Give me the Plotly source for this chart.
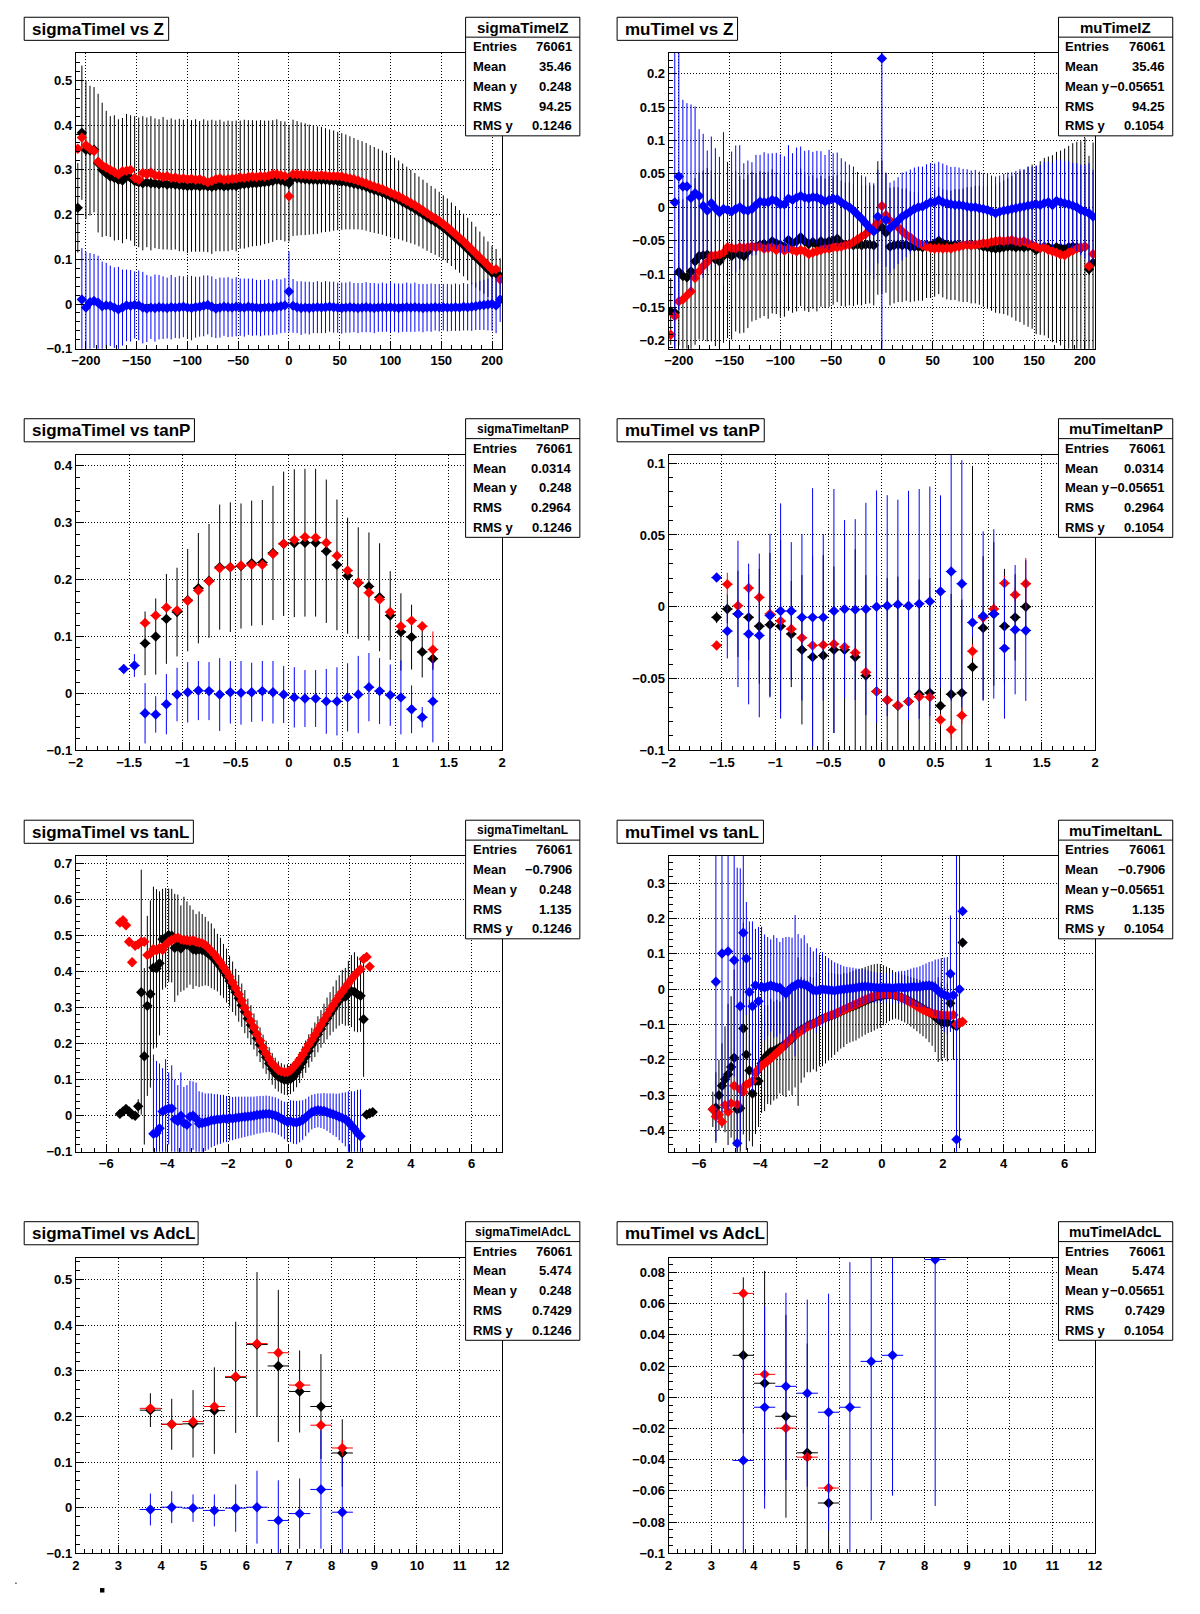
import plotly.graph_objects as go

# The page body keeps the browser's default 8px margin, so the figure is made
# 16px smaller than the 1200x1614 window and every position is shifted by 8px.
CANVAS_W, CANVAS_H = 1200, 1614
OFF = 8
W, H = CANVAS_W - 2 * OFF, CANVAS_H - 2 * OFF
FONT = "Liberation Sans, Arial, Helvetica, sans-serif"
BLACK, RED, BLUE = "#000000", "#ff0000", "#0000ff"

# ---------------- binning (bin edges -> centres) ----------------
Z_LO, Z_W, Z_N = -210.0, 4.0, 105
TANP_LO, TANP_W, TANP_N = -1.6, 0.1, 30
TANL_LO, TANL_W, TANL_N = -5.6, 0.1, 84
ADCL_LO, ADCL_W, ADCL_N = 3.5, 0.5, 10


def centres(lo, w, n):
    return [round(lo + w * (i + 0.5), 4) for i in range(n)]


Z_X = centres(Z_LO, Z_W, Z_N)
TANP_X = centres(TANP_LO, TANP_W, TANP_N)
TANL_X = centres(TANL_LO, TANL_W, TANL_N)
ADCL_X = centres(ADCL_LO, ADCL_W, ADCL_N)

# ---------------- sigmaTimeI vs Z ----------------
SIG_Z_BLACK = [
    0.215, 0.383, 0.345, 0.343, 0.345, 0.315, 0.300, 0.292, 0.285, 0.282,
    0.278, 0.276, 0.285, 0.282, 0.275, 0.272, 0.270, 0.272, 0.270, 0.270,
    0.268, 0.270, 0.267, 0.268, 0.267, 0.266, 0.265, 0.264, 0.264, 0.265,
    0.263, 0.265, 0.263, 0.262, 0.264, 0.265, 0.263, 0.264, 0.265, 0.264,
    0.267, 0.268, 0.269, 0.270, 0.270, 0.271, 0.272, 0.273, 0.275, 0.278,
    0.276, 0.274, 0.270, 0.282, 0.281, 0.280, 0.279, 0.278, 0.278, 0.277,
    0.278, 0.277, 0.276, 0.276, 0.275, 0.274, 0.273, 0.271, 0.269, 0.267,
    0.265, 0.262, 0.258, 0.255, 0.252, 0.249, 0.245, 0.241, 0.237, 0.233,
    0.228, 0.223, 0.218, 0.213, 0.207, 0.201, 0.195, 0.189, 0.184, 0.178,
    0.171, 0.164, 0.156, 0.148, 0.140, 0.132, 0.123, 0.114, 0.105, 0.096,
    0.087, 0.078, 0.070, 0.068, 0.062]
SIG_Z_BLACK_ERR = [
    0.10, 0.15, 0.155, 0.145, 0.14, 0.155, 0.15, 0.14, 0.135, 0.14,
    0.135, 0.14, 0.14, 0.14, 0.145, 0.145, 0.15, 0.145, 0.15, 0.145,
    0.145, 0.148, 0.145, 0.147, 0.145, 0.148, 0.147, 0.15, 0.147, 0.148,
    0.146, 0.148, 0.147, 0.15, 0.146, 0.147, 0.145, 0.146, 0.144, 0.146,
    0.143, 0.144, 0.142, 0.141, 0.14, 0.14, 0.138, 0.137, 0.136, 0.135,
    0.133, 0.134, 0.13, 0.13, 0.128, 0.126, 0.125, 0.123, 0.122, 0.12,
    0.118, 0.116, 0.114, 0.112, 0.11, 0.108, 0.106, 0.104, 0.102, 0.1,
    0.099, 0.098, 0.097, 0.096, 0.095, 0.094, 0.093, 0.092, 0.09, 0.088,
    0.086, 0.084, 0.082, 0.08, 0.078, 0.077, 0.076, 0.075, 0.074, 0.073,
    0.072, 0.072, 0.071, 0.071, 0.07, 0.07, 0.07, 0.07, 0.068, 0.066,
    0.064, 0.062, 0.06, 0.055, 0.04]
SIG_Z_RED = [
    0.347, 0.372, 0.355, 0.347, 0.342, 0.318, 0.310, 0.305, 0.300, 0.295,
    0.290, 0.297, 0.298, 0.300, 0.282, 0.278, 0.293, 0.290, 0.294, 0.288,
    0.287, 0.284, 0.286, 0.282, 0.283, 0.280, 0.281, 0.279, 0.280, 0.278,
    0.279, 0.276, 0.272, 0.275, 0.279, 0.281, 0.278, 0.279, 0.280, 0.281,
    0.283, 0.282, 0.284, 0.285, 0.284, 0.286, 0.285, 0.287, 0.290, 0.290,
    0.288, 0.286, 0.241, 0.290, 0.290, 0.289, 0.289, 0.288, 0.288, 0.287,
    0.288, 0.287, 0.286, 0.286, 0.286, 0.285, 0.283, 0.281, 0.279, 0.276,
    0.273, 0.270, 0.266, 0.263, 0.260, 0.257, 0.253, 0.249, 0.245, 0.241,
    0.236, 0.231, 0.226, 0.221, 0.215, 0.209, 0.203, 0.197, 0.192, 0.186,
    0.179, 0.172, 0.164, 0.156, 0.148, 0.140, 0.131, 0.122, 0.113, 0.104,
    0.095, 0.086, 0.077, 0.078, 0.055]
SIG_Z_BLUE = [
    None, 0.010, -0.008, 0.004, 0.007, 0.003, -0.005, -0.003, -0.004, -0.008,
    -0.012, -0.008, -0.003, -0.004, -0.002, -0.003, -0.008, -0.010, -0.008, -0.009,
    -0.007, -0.008, -0.009, -0.007, -0.008, -0.007, -0.006, -0.008, -0.009, -0.007,
    -0.006, -0.004, -0.002, -0.006, -0.010, -0.008, -0.006, -0.007, -0.008, -0.006,
    -0.007, -0.008, -0.006, -0.007, -0.008, -0.009, -0.008, -0.007, -0.008, -0.006,
    -0.005, -0.003, 0.028, -0.004, -0.007, -0.009, -0.008, -0.009, -0.008, -0.007,
    -0.008, -0.007, -0.006, -0.007, -0.008, -0.009, -0.008, -0.007, -0.008, -0.009,
    -0.008, -0.007, -0.008, -0.009, -0.008, -0.007, -0.008, -0.007, -0.008, -0.009,
    -0.008, -0.007, -0.008, -0.007, -0.008, -0.009, -0.008, -0.008, -0.007, -0.008,
    -0.007, -0.008, -0.008, -0.007, -0.008, -0.006, -0.007, -0.006, -0.005, -0.003,
    -0.002, -0.001, 0.000, -0.003, 0.010]
SIG_Z_BLUE_ERR = [
    None, 0.115, 0.125, 0.11, 0.105, 0.105, 0.1, 0.095, 0.09, 0.09,
    0.095, 0.085, 0.08, 0.08, 0.075, 0.078, 0.08, 0.075, 0.07, 0.075,
    0.072, 0.07, 0.068, 0.072, 0.068, 0.07, 0.068, 0.07, 0.072, 0.068,
    0.067, 0.068, 0.066, 0.068, 0.066, 0.067, 0.065, 0.067, 0.065, 0.066,
    0.064, 0.065, 0.063, 0.064, 0.062, 0.063, 0.062, 0.063, 0.061, 0.062,
    0.06, 0.061, 0.09, 0.06, 0.058, 0.06, 0.058, 0.059, 0.057, 0.058,
    0.057, 0.058, 0.056, 0.057, 0.056, 0.057, 0.056, 0.057, 0.055, 0.056,
    0.055, 0.056, 0.055, 0.056, 0.054, 0.055, 0.054, 0.056, 0.054, 0.055,
    0.054, 0.055, 0.054, 0.055, 0.053, 0.054, 0.053, 0.054, 0.052, 0.053,
    0.052, 0.053, 0.052, 0.053, 0.052, 0.053, 0.052, 0.054, 0.053, 0.055,
    0.056, 0.058, 0.06, 0.062, 0.05]
SIG_Z_RED_ERR = 0.004

# ---------------- muTimeI vs Z ----------------
MU_Z_BLACK = [
    -0.156, -0.158, -0.097, -0.103, -0.105, -0.096, -0.081, -0.073, -0.072, -0.071,
    -0.073, -0.078, -0.081, -0.073, -0.064, -0.073, -0.066, -0.071, -0.073, -0.066,
    -0.059, -0.059, -0.056, -0.055, -0.057, -0.051, -0.054, -0.056, -0.059, -0.049,
    -0.054, -0.051, -0.045, -0.051, -0.055, -0.052, -0.056, -0.051, -0.054, -0.051,
    -0.050, -0.047, -0.054, -0.056, -0.055, -0.057, -0.056, -0.057, -0.056, -0.056,
    -0.057, -0.031, -0.030, -0.038, -0.059, -0.057, -0.056, -0.057, -0.056, -0.059,
    -0.059, -0.059, -0.060, -0.056, -0.057, -0.054, -0.050, -0.054, -0.056, -0.057,
    -0.056, -0.057, -0.057, -0.056, -0.057, -0.056, -0.057, -0.059, -0.060, -0.061,
    -0.062, -0.061, -0.060, -0.059, -0.059, -0.060, -0.059, -0.060, -0.059, -0.059,
    -0.064, -0.061, -0.059, -0.060, -0.062, -0.060, -0.061, -0.062, -0.060, -0.059,
    -0.060, -0.061, -0.059, -0.093, -0.083]
MU_Z_BLACK_ERR = [
    0.05, 0.06, 0.11, 0.115, 0.12, 0.12, 0.125, 0.125, 0.127, 0.13,
    0.128, 0.13, 0.128, 0.13, 0.132, 0.125, 0.12, 0.118, 0.115, 0.115,
    0.112, 0.11, 0.11, 0.108, 0.11, 0.108, 0.106, 0.108, 0.105, 0.106,
    0.104, 0.105, 0.103, 0.104, 0.102, 0.1, 0.1, 0.098, 0.097, 0.098,
    0.096, 0.095, 0.094, 0.093, 0.092, 0.091, 0.09, 0.09, 0.089, 0.088,
    0.09, 0.1, 0.1, 0.09, 0.088, 0.087, 0.086, 0.085, 0.084, 0.083,
    0.082, 0.081, 0.08, 0.08, 0.079, 0.08, 0.08, 0.081, 0.082, 0.082,
    0.083, 0.084, 0.085, 0.086, 0.087, 0.088, 0.089, 0.09, 0.092, 0.094,
    0.096, 0.098, 0.1, 0.103, 0.106, 0.11, 0.113, 0.116, 0.12, 0.123,
    0.126, 0.13, 0.133, 0.136, 0.14, 0.143, 0.146, 0.15, 0.152, 0.155,
    0.158, 0.16, 0.163, 0.17, 0.18]
MU_Z_RED = [
    -0.191, -0.163, -0.141, -0.138, -0.132, -0.126, -0.106, -0.096, -0.088, -0.082,
    -0.073, -0.072, -0.071, -0.068, -0.060, -0.061, -0.062, -0.060, -0.061, -0.060,
    -0.059, -0.060, -0.059, -0.062, -0.061, -0.060, -0.064, -0.061, -0.065, -0.062,
    -0.064, -0.066, -0.064, -0.066, -0.070, -0.068, -0.066, -0.064, -0.062, -0.062,
    -0.060, -0.060, -0.059, -0.057, -0.056, -0.052, -0.048, -0.044, -0.040, -0.035,
    -0.030, -0.022, 0.002, -0.012, -0.020, -0.025, -0.030, -0.036, -0.041, -0.045,
    -0.050, -0.054, -0.057, -0.059, -0.061, -0.062, -0.061, -0.062, -0.061, -0.062,
    -0.060, -0.059, -0.057, -0.056, -0.057, -0.056, -0.055, -0.054, -0.054, -0.052,
    -0.051, -0.050, -0.051, -0.050, -0.049, -0.051, -0.052, -0.051, -0.054, -0.056,
    -0.059, -0.061, -0.060, -0.064, -0.066, -0.068, -0.071, -0.072, -0.068, -0.065,
    -0.062, -0.060, -0.059, -0.088, -0.070]
MU_Z_BLUE = [
    None, 0.0074, 0.046, 0.031, 0.031, 0.014, 0.021, 0.017, 0.002, -0.005,
    0.006, -0.0015, -0.0075, -0.0025, -0.004, -0.0065, -0.0025, 0.0, -0.004, -0.005,
    -0.0025, 0.0035, 0.0085, 0.0075, 0.0075, 0.011, 0.0095, 0.0045, 0.0045, 0.013,
    0.011, 0.0145, 0.017, 0.0145, 0.0135, 0.015, 0.0145, 0.012, 0.0085, 0.011,
    0.013, 0.012, 0.0075, 0.0035, 0.0, -0.005, -0.011, -0.017, -0.024, -0.031,
    -0.036, -0.014, 0.223, -0.019, -0.031, -0.026, -0.020, -0.014, -0.0105, -0.0065,
    -0.0025, 0.0, 0.001, 0.0045, 0.0075, 0.0075, 0.011, 0.0075, 0.006, 0.0045,
    0.0035, 0.0035, 0.0025, 0.001, 0.0, 0.0, -0.0015, -0.0025, -0.004, -0.0065,
    -0.009, -0.0065, -0.005, -0.004, -0.0025, -0.0015, 0.0, 0.001, 0.0025, 0.0035,
    0.0045, 0.0035, 0.006, 0.0075, 0.0035, 0.0095, 0.0075, 0.006, 0.0045, 0.0025,
    0.0, -0.004, -0.0065, -0.009, -0.014]
MU_Z_BLUE_ERR = [
    None, 0.25, 0.2, 0.13, 0.125, 0.14, 0.13, 0.1, 0.108, 0.09,
    0.1, 0.09, 0.083, 0.115, 0.065, 0.09, 0.095, 0.093, 0.07, 0.075,
    0.07, 0.075, 0.07, 0.075, 0.073, 0.07, 0.072, 0.075, 0.072, 0.08,
    0.07, 0.075, 0.074, 0.07, 0.072, 0.068, 0.07, 0.072, 0.07, 0.075,
    0.068, 0.07, 0.066, 0.065, 0.064, 0.066, 0.064, 0.065, 0.07, 0.068,
    0.072, 0.07, 0.44, 0.07, 0.068, 0.066, 0.065, 0.066, 0.064, 0.063,
    0.062, 0.061, 0.06, 0.06, 0.059, 0.058, 0.057, 0.058, 0.057, 0.056,
    0.057, 0.056, 0.055, 0.056, 0.055, 0.056, 0.055, 0.054, 0.055, 0.054,
    0.055, 0.054, 0.055, 0.056, 0.055, 0.056, 0.057, 0.056, 0.058, 0.057,
    0.058, 0.06, 0.062, 0.061, 0.063, 0.062, 0.064, 0.063, 0.065, 0.064,
    0.066, 0.068, 0.07, 0.075, 0.07]
MU_Z_RED_ERR = 0.003

# ---------------- sigmaTimeI vs tanP ----------------
SIG_P_BLACK = [None, None, 0.088, 0.100, 0.131, 0.143, 0.164, 0.185, 0.198, 0.222,
               0.222, 0.224, 0.229, 0.230, 0.247, 0.263, 0.264, 0.265, 0.265, 0.250,
               0.226, 0.207, 0.194, 0.188, 0.169, 0.137, 0.108, 0.099, 0.073, 0.061]
SIG_P_BLACK_ERR = [None, None, 0.056, 0.067, 0.079, 0.078, 0.09, 0.097, 0.10, 0.11,
                   0.114, 0.11, 0.11, 0.11, 0.118, 0.127, 0.13, 0.13, 0.13, 0.126,
                   0.115, 0.102, 0.098, 0.095, 0.095, 0.078, 0.068, 0.057, 0.045, 0.02]
SIG_P_RED = [None, None, 0.124, 0.137, 0.151, 0.146, 0.163, 0.181, 0.197, 0.220,
             0.222, 0.225, 0.226, 0.226, 0.245, 0.263, 0.270, 0.275, 0.274, 0.265,
             0.242, 0.216, 0.195, 0.177, 0.165, 0.143, 0.118, 0.128, 0.118, 0.077]
SIG_P_RED_ERR = [None, None, 0.008, 0.006, 0.005, 0.005, 0.004, 0.004, 0.004, 0.003,
                 0.003, 0.003, 0.003, 0.003, 0.003, 0.003, 0.003, 0.003, 0.003, 0.003,
                 0.003, 0.003, 0.004, 0.004, 0.004, 0.005, 0.005, 0.006, 0.008, 0.032]
SIG_P_BLUE = [0.043, 0.049, -0.035, -0.037, -0.019, -0.002, 0.002, 0.005, 0.004, -0.002,
              0.002, 0.001, 0.002, 0.004, 0.002, -0.002, -0.007, -0.009, -0.009, -0.014,
              -0.014, -0.007, -0.002, 0.011, 0.004, -0.003, -0.007, -0.028, -0.042, -0.014]
SIG_P_BLUE_ERR = [0.002, 0.02, 0.053, 0.032, 0.053, 0.047, 0.053, 0.052, 0.051, 0.064,
                  0.055, 0.056, 0.052, 0.053, 0.055, 0.05, 0.053, 0.05, 0.05, 0.057,
                  0.06, 0.06, 0.068, 0.06, 0.058, 0.054, 0.065, 0.042, 0.018, 0.072]

# ---------------- muTimeI vs tanP ----------------
MU_P_BLACK = [-0.0074, -0.0016, -0.005, -0.0074, -0.0136, -0.0125, -0.0136, -0.019, -0.030, -0.035,
              -0.034, -0.030, -0.030, -0.035, -0.048, -0.059, -0.065, -0.069, -0.066, -0.061,
              -0.060, -0.069, -0.061, -0.060, -0.042, -0.0148, -0.005, -0.0136, -0.0074, 0.0]
MU_P_BLACK_ERR = [0.004, 0.01, 0.03, 0.03, 0.04, 0.05, 0.06, 0.037, 0.052, 0.07,
                  0.07, 0.058, 0.08, 0.075, 0.07, 0.08, 0.085, 0.09, 0.085, 0.08,
                  0.08, 0.075, 0.07, 0.065, 0.14, 0.05, 0.05, 0.04, 0.03, 0.02]
MU_P_RED = [-0.027, 0.0157, 0.0007, 0.013, 0.0065, -0.005, -0.010, -0.0155, -0.0217, -0.027,
            -0.0266, -0.026, -0.028, -0.032, -0.0457, -0.059, -0.065, -0.0686, -0.066, -0.0628,
            -0.063, -0.0788, -0.0857, -0.0757, -0.031, -0.0076, -0.0016, 0.0164, 0.0083, 0.016]
MU_P_RED_ERR = [0.003, 0.008, 0.004, 0.004, 0.004, 0.003, 0.003, 0.003, 0.003, 0.003,
                0.003, 0.003, 0.003, 0.003, 0.003, 0.003, 0.003, 0.003, 0.003, 0.003,
                0.003, 0.004, 0.006, 0.006, 0.005, 0.004, 0.004, 0.005, 0.005, 0.018]
MU_P_BLUE = [0.0203, -0.017, -0.005, -0.019, -0.020, -0.0062, -0.003, -0.003, -0.0074, -0.0074,
             -0.0074, -0.003, -0.0016, -0.002, -0.0016, 0.0, 0.0007, 0.0016, 0.0007, 0.002,
             0.0037, 0.0106, 0.0245, 0.016, -0.011, -0.0065, -0.005, -0.029, -0.016, -0.0166]
MU_P_BLUE_ERR = [0.002, 0.019, 0.051, 0.049, 0.057, 0.057, 0.075, 0.048, 0.058, 0.09,
                 0.058, 0.085, 0.062, 0.063, 0.074, 0.081, 0.077, 0.073, 0.080, 0.08,
                 0.08, 0.067, 0.09, 0.086, 0.01, 0.059, 0.059, 0.049, 0.045, 0.049]

# ---------------- sigmaTimeI vs tanL ----------------
SIG_L_BLACK = [
    0.005, 0.012, 0.019, 0.012, 0.003, 0.000, 0.026, 0.343, 0.165, 0.305,
    0.338, 0.411, 0.409, 0.423, 0.490, 0.494, 0.501, 0.500, 0.466, 0.474,
    0.464, 0.478, 0.475, 0.474, 0.462, 0.460, 0.462, 0.460, 0.457, 0.450,
    0.444, 0.435, 0.425, 0.414, 0.402, 0.389, 0.374, 0.358, 0.343, 0.326,
    0.307, 0.289, 0.270, 0.252, 0.234, 0.215, 0.197, 0.178, 0.162, 0.145,
    0.130, 0.118, 0.109, 0.104, 0.100, 0.100, 0.102, 0.109, 0.121, 0.134,
    0.149, 0.164, 0.180, 0.197, 0.211, 0.226, 0.241, 0.256, 0.270, 0.283,
    0.296, 0.309, 0.320, 0.330, 0.330, 0.340, 0.346, 0.344, 0.337, 0.333,
    0.268, 0.003, 0.007, 0.010]
SIG_L_BLACK_ERR = [
    0.005, 0.005, 0.005, 0.005, 0.005, 0.01, 0.02, 0.34, 0.245, 0.25,
    0.26, 0.225, 0.22, 0.2, 0.14, 0.138, 0.13, 0.13, 0.15, 0.14,
    0.12, 0.13, 0.12, 0.11, 0.11, 0.1, 0.105, 0.1, 0.095, 0.09,
    0.09, 0.085, 0.08, 0.08, 0.075, 0.075, 0.07, 0.07, 0.065, 0.065,
    0.06, 0.06, 0.055, 0.055, 0.05, 0.05, 0.048, 0.047, 0.046, 0.045,
    0.044, 0.043, 0.042, 0.042, 0.042, 0.043, 0.042, 0.042, 0.042, 0.043,
    0.044, 0.045, 0.046, 0.047, 0.048, 0.05, 0.052, 0.055, 0.058, 0.06,
    0.063, 0.067, 0.07, 0.075, 0.08, 0.09, 0.1, 0.11, 0.105, 0.1,
    0.16, 0.005, 0.005, 0.005]
SIG_L_RED = [
    0.536, 0.543, 0.529, 0.483, 0.426, 0.472, 0.476, 0.483, 0.483, 0.446,
    0.450, 0.463, 0.459, 0.466, 0.460, 0.474, 0.483, 0.488, 0.492, 0.494,
    0.490, 0.488, 0.487, 0.485, 0.487, 0.483, 0.481, 0.479, 0.474, 0.466,
    0.457, 0.448, 0.437, 0.426, 0.413, 0.400, 0.386, 0.370, 0.354, 0.337,
    0.319, 0.300, 0.282, 0.263, 0.245, 0.226, 0.208, 0.189, 0.173, 0.158,
    0.145, 0.136, 0.127, 0.123, 0.121, 0.121, 0.126, 0.135, 0.145, 0.156,
    0.169, 0.183, 0.197, 0.210, 0.224, 0.238, 0.252, 0.266, 0.280, 0.294,
    0.307, 0.320, 0.333, 0.344, 0.356, 0.367, 0.379, 0.389, 0.398, 0.407,
    0.435, 0.441, 0.414, None]
SIG_L_BLUE = [
    None, None, None, None, None, None, None, None, None, None,
    None, -0.050, -0.048, -0.035, 0.012, 0.017, 0.020, 0.020, -0.010, -0.015,
    0.000, -0.020, -0.025, -0.003, 0.000, -0.008, -0.022, -0.020, -0.018, -0.016,
    -0.013, -0.012, -0.010, -0.010, -0.008, -0.009, -0.007, -0.008, -0.006, -0.005,
    -0.004, -0.003, -0.002, -0.001, 0.000, 0.002, 0.003, 0.004, 0.005, 0.005,
    0.003, 0.001, -0.003, -0.008, -0.013, -0.017, -0.015, -0.018, -0.019, -0.016,
    -0.012, -0.005, 0.003, 0.010, 0.013, 0.015, 0.014, 0.013, 0.010, 0.007,
    0.004, 0.001, -0.003, -0.006, -0.010, -0.017, -0.027, -0.037, -0.048, -0.057,
    None, None, None, None]
SIG_L_BLUE_ERR = [
    None, None, None, None, None, None, None, None, None, None,
    None, 0.22, 0.2, 0.18, 0.12, 0.14, 0.1, 0.12, 0.11, 0.1,
    0.12, 0.1, 0.11, 0.1, 0.095, 0.1, 0.09, 0.085, 0.08, 0.078,
    0.075, 0.072, 0.07, 0.068, 0.066, 0.064, 0.062, 0.06, 0.059, 0.058,
    0.057, 0.056, 0.055, 0.054, 0.053, 0.052, 0.052, 0.051, 0.051, 0.05,
    0.05, 0.05, 0.05, 0.05, 0.052, 0.055, 0.058, 0.06, 0.06, 0.058,
    0.055, 0.052, 0.05, 0.048, 0.047, 0.047, 0.048, 0.05, 0.052, 0.055,
    0.058, 0.06, 0.065, 0.07, 0.075, 0.085, 0.095, 0.105, 0.12, 0.13,
    None, None, None, None]
SIG_L_RED_ERR = 0.004

# ---------------- muTimeI vs tanL ----------------
MU_L_BLACK = [
    -0.340, -0.335, -0.300, -0.273, -0.255, -0.241, -0.220, -0.194, -0.340, -0.337,
    -0.111, -0.185, -0.230, -0.295, -0.260, -0.260, -0.210, -0.195, -0.185, -0.177,
    -0.175, -0.170, -0.165, -0.160, -0.155, -0.147, -0.140, -0.128, -0.120, -0.115,
    -0.110, -0.105, -0.100, -0.097, -0.093, -0.088, -0.083, -0.080, -0.077, -0.074,
    -0.071, -0.067, -0.063, -0.059, -0.055, -0.051, -0.048, -0.045, -0.041, -0.037,
    -0.033, -0.029, -0.026, -0.023, -0.020, -0.019, -0.017, -0.016, -0.015, -0.016,
    -0.018, -0.021, -0.024, -0.027, -0.031, -0.036, -0.040, -0.045, -0.050, -0.055,
    -0.060, -0.065, -0.070, -0.078, -0.086, -0.092, -0.094, -0.094, -0.040, -0.100,
    -0.105, -0.095, 0.132, None]
MU_L_BLACK_ERR = [
    0.05, 0.1, 0.1, 0.12, 0.15, 0.2, 0.2, 0.25, 0.15, 0.15,
    0.3, 0.27, 0.2, 0.15, 0.15, 0.13, 0.14, 0.15, 0.14, 0.15,
    0.14, 0.14, 0.13, 0.14, 0.15, 0.14, 0.16, 0.15, 0.21, 0.15,
    0.14, 0.13, 0.135, 0.13, 0.14, 0.13, 0.135, 0.13, 0.125, 0.12,
    0.115, 0.11, 0.105, 0.105, 0.1, 0.1, 0.1, 0.1, 0.098, 0.097,
    0.096, 0.095, 0.095, 0.094, 0.092, 0.09, 0.085, 0.08, 0.075, 0.07,
    0.065, 0.065, 0.066, 0.067, 0.068, 0.07, 0.072, 0.074, 0.076, 0.078,
    0.08, 0.085, 0.09, 0.1, 0.12, 0.11, 0.1, 0.11, 0.015, 0.1,
    0.01, 0.01, 0.01, None]
MU_L_RED = [
    -0.340, -0.360, -0.355, -0.375, -0.328, -0.347, -0.323, -0.273, -0.326, -0.283,
    -0.290, -0.270, -0.266, -0.260, -0.238, -0.226, -0.216, -0.210, -0.203, -0.196,
    -0.188, -0.180, -0.172, -0.163, -0.155, -0.145, -0.137, -0.130, -0.124, -0.118,
    -0.112, -0.107, -0.102, -0.098, -0.094, -0.090, -0.085, -0.080, -0.076, -0.073,
    -0.070, -0.066, -0.062, -0.058, -0.054, -0.050, -0.046, -0.042, -0.038, -0.034,
    -0.030, -0.026, -0.022, -0.019, -0.017, -0.015, -0.014, -0.014, -0.014, -0.015,
    -0.017, -0.020, -0.024, -0.028, -0.033, -0.038, -0.043, -0.048, -0.053, -0.058,
    -0.062, -0.065, -0.068, -0.070, -0.072, -0.073, -0.074, -0.074, -0.075, -0.073,
    -0.100, -0.095, -0.092, None]
MU_L_BLUE = [
    None, 0.021, None, 0.101, None, 0.107, None, 0.082, -0.436, -0.048,
    0.160, 0.087, -0.008, -0.048, 0.011, -0.034, 0.007, 0.005, 0.008, 0.011,
    0.008, 0.005, 0.004, -0.005, -0.012, -0.002, 0.006, 0.010, 0.016, 0.014,
    0.013, 0.010, 0.004, -0.003, -0.004, -0.002, 0.000, -0.001, -0.002, -0.003,
    -0.004, -0.002, -0.001, 0.000, 0.001, 0.002, 0.003, 0.004, 0.006, 0.007,
    0.008, 0.007, 0.006, 0.005, 0.004, 0.004, 0.005, 0.004, 0.004, 0.003,
    0.004, 0.005, 0.005, 0.004, 0.005, 0.006, 0.007, 0.006, 0.007, 0.009,
    0.010, 0.011, 0.009, 0.004, -0.005, -0.012, -0.016, -0.019, 0.044, -0.017,
    -0.425, 0.000, 0.221, None]
MU_L_BLUE_ERR = [
    None, 0.45, None, 0.45, None, 0.45, None, 0.33, 0.78, 0.39,
    0.5, 0.16, 0.2, 0.24, 0.16, 0.21, 0.17, 0.15, 0.14, 0.13,
    0.145, 0.14, 0.13, 0.15, 0.16, 0.15, 0.14, 0.2, 0.14, 0.13,
    0.14, 0.12, 0.115, 0.11, 0.12, 0.1, 0.105, 0.095, 0.09, 0.085,
    0.08, 0.075, 0.07, 0.065, 0.062, 0.06, 0.058, 0.055, 0.052, 0.05,
    0.048, 0.046, 0.045, 0.044, 0.043, 0.042, 0.042, 0.042, 0.043, 0.044,
    0.045, 0.046, 0.047, 0.048, 0.05, 0.052, 0.054, 0.056, 0.058, 0.06,
    0.063, 0.066, 0.07, 0.08, 0.09, 0.1, 0.105, 0.11, 0.165, 0.06,
    0.85, 0.45, 0.01, None]
MU_L_RED_ERR = 0.004

# ---------------- sigmaTimeI vs AdcL ----------------
SIG_A_BLACK = [0.214, 0.183, 0.184, 0.213, 0.286, 0.358, 0.311, 0.255, 0.222, 0.120]
SIG_A_BLACK_ERR = [0.037, 0.056, 0.074, 0.095, 0.122, 0.159, 0.167, 0.090, 0.115, 0.074]
SIG_A_RED = [0.218, 0.183, 0.189, 0.222, 0.288, 0.360, 0.340, 0.269, 0.181, 0.131]
SIG_A_RED_ERR = [0.004, 0.004, 0.004, 0.004, 0.004, 0.004, 0.005, 0.005, 0.006, 0.018]
SIG_A_BLUE = [-0.004, 0.001, -0.001, -0.006, -0.001, 0.001, -0.028, -0.013, 0.040, -0.010]
SIG_A_BLUE_ERR = [0.035, 0.035, 0.030, 0.035, 0.052, 0.080, 0.088, 0.077, 0.130, 0.120]

# ---------------- muTimeI vs AdcL ----------------
MU_A_BLACK = [0.0269, 0.009, -0.0122, -0.0356, -0.0678, None, None, None, None, None]
MU_A_BLACK_ERR = [0.05, 0.072, 0.065, 0.07, 0.05, None, None, None, None, None]
MU_A_RED = [0.0666, 0.0147, -0.0198, -0.0384, -0.0582, None, None, None, None, None]
MU_A_RED_ERR = [0.003, 0.003, 0.003, 0.003, 0.003, None, None, None, None, None]
MU_A_BLUE = [-0.0405, -0.0064, 0.007, 0.0026, -0.0096, -0.0064, 0.023, 0.0269, None, 0.0883]
MU_A_BLUE_ERR = [0.07, 0.065, 0.06, 0.06, 0.076, 0.093, 0.102, 0.09, None, 0.158]

# ---------------- statistics boxes ----------------
STAT_LABELS = ["Entries", "Mean", "Mean y", "RMS", "RMS y"]
STATS_SIG_Z = ["76061", "35.46", "0.248", "94.25", "0.1246"]
STATS_MU_Z = ["76061", "35.46", "\u22120.05651", "94.25", "0.1054"]
STATS_SIG_P = ["76061", "0.0314", "0.248", "0.2964", "0.1246"]
STATS_MU_P = ["76061", "0.0314", "\u22120.05651", "0.2964", "0.1054"]
STATS_SIG_L = ["76061", "\u22120.7906", "0.248", "1.135", "0.1246"]
STATS_MU_L = ["76061", "\u22120.7906", "\u22120.05651", "1.135", "0.1054"]
STATS_SIG_A = ["76061", "5.474", "0.248", "0.7429", "0.1246"]
STATS_MU_A = ["76061", "5.474", "\u22120.05651", "0.7429", "0.1054"]

PANELS = [
    dict(title="sigmaTimeI vs Z", tw=163.5, name="sigmaTimeIZ", hs=15, stats=STATS_SIG_Z,
         x=Z_X, xerr=Z_W / 2, xr=[-210, 210], xd=50, xm=10, yr=[-0.1, 0.561], yd=0.1, ym=0.02,
         series=[(SIG_Z_BLACK, SIG_Z_BLACK_ERR, BLACK), (SIG_Z_RED, SIG_Z_RED_ERR, RED),
                 (SIG_Z_BLUE, SIG_Z_BLUE_ERR, BLUE)]),
    dict(title="muTimeI vs Z", tw=139.2, name="muTimeIZ", hs=15, stats=STATS_MU_Z,
         x=Z_X, xerr=Z_W / 2, xr=[-210, 210], xd=50, xm=10, yr=[-0.212, 0.231], yd=0.05, ym=0.01,
         series=[(MU_Z_BLACK, MU_Z_BLACK_ERR, BLACK), (MU_Z_RED, MU_Z_RED_ERR, RED),
                 (MU_Z_BLUE, MU_Z_BLUE_ERR, BLUE)]),
    dict(title="sigmaTimeI vs tanP", tw=189.6, name="sigmaTimeItanP", hs=12, stats=STATS_SIG_P,
         x=TANP_X, xerr=TANP_W / 2, xr=[-2, 2], xd=0.5, xm=0.1, yr=[-0.1, 0.42], yd=0.1, ym=0.02,
         series=[(SIG_P_BLACK, SIG_P_BLACK_ERR, BLACK), (SIG_P_RED, SIG_P_RED_ERR, RED),
                 (SIG_P_BLUE, SIG_P_BLUE_ERR, BLUE)]),
    dict(title="muTimeI vs tanP", tw=166.2, name="muTimeItanP", hs=15, stats=STATS_MU_P,
         x=TANP_X, xerr=TANP_W / 2, xr=[-2, 2], xd=0.5, xm=0.1, yr=[-0.1, 0.106], yd=0.05, ym=0.01,
         series=[(MU_P_BLACK, MU_P_BLACK_ERR, BLACK), (MU_P_RED, MU_P_RED_ERR, RED),
                 (MU_P_BLUE, MU_P_BLUE_ERR, BLUE)]),
    dict(title="sigmaTimeI vs tanL", tw=188.5, name="sigmaTimeItanL", hs=12, stats=STATS_SIG_L,
         x=TANL_X, xerr=TANL_W / 2, xr=[-7, 7], xd=2, xm=0.4, yr=[-0.1, 0.721], yd=0.1, ym=0.02,
         series=[(SIG_L_BLACK, SIG_L_BLACK_ERR, BLACK), (SIG_L_RED, SIG_L_RED_ERR, RED),
                 (SIG_L_BLUE, SIG_L_BLUE_ERR, BLUE)]),
    dict(title="muTimeI vs tanL", tw=165.4, name="muTimeItanL", hs=15, stats=STATS_MU_L,
         x=TANL_X, xerr=TANL_W / 2, xr=[-7, 7], xd=2, xm=0.4, yr=[-0.46, 0.377], yd=0.1, ym=0.02,
         series=[(MU_L_BLACK, MU_L_BLACK_ERR, BLACK), (MU_L_RED, MU_L_RED_ERR, RED),
                 (MU_L_BLUE, MU_L_BLUE_ERR, BLUE)]),
    dict(title="sigmaTimeI vs AdcL", tw=193.3, name="sigmaTimeIAdcL", hs=12, stats=STATS_SIG_A,
         x=ADCL_X, xerr=ADCL_W / 2, xr=[2, 12], xd=1, xm=0.2, yr=[-0.1, 0.549], yd=0.1, ym=0.02,
         series=[(SIG_A_BLACK, SIG_A_BLACK_ERR, BLACK), (SIG_A_RED, SIG_A_RED_ERR, RED),
                 (SIG_A_BLUE, SIG_A_BLUE_ERR, BLUE)]),
    dict(title="muTimeI vs AdcL", tw=169.3, name="muTimeIAdcL", hs=14, stats=STATS_MU_A,
         x=ADCL_X, xerr=ADCL_W / 2, xr=[2, 12], xd=1, xm=0.2, yr=[-0.1, 0.0896], yd=0.02, ym=0.005,
         series=[(MU_A_BLACK, MU_A_BLACK_ERR, BLACK), (MU_A_RED, MU_A_RED_ERR, RED),
                 (MU_A_BLUE, MU_A_BLUE_ERR, BLUE)]),
]

PAD_W, PAD_H = 600.0, 403.5
FR_L, FR_R, FR_T, FR_B = 69.5, 501.0, 53.3, 350.5


def px(x):
    # window pixel -> paper fraction
    return (x - OFF) / W


def py(y):
    return 1 - (y - OFF) / H


fig = go.Figure()
layout = {}
shapes, annots = [], []

axis_common = dict(
    showline=True, linecolor="black", linewidth=1, mirror=True,
    ticks="inside", ticklen=8, tickwidth=1, tickcolor="black",
    showgrid=True, gridcolor="black", gridwidth=1, griddash="1px,2px",
    zeroline=False, fixedrange=True,
    tickfont=dict(family=FONT, size=13, color="black", weight="bold"),
)

for k, P in enumerate(PANELS):
    col, row = k % 2, k // 2
    X0, Y0 = PAD_W * col, PAD_H * row
    xs = "" if k == 0 else str(k + 1)
    xref, yref = "x" + xs, "y" + xs

    for yv, ev, c in P["series"]:
        if isinstance(ev, (int, float)):
            ey = dict(type="constant", value=ev, color=c, thickness=1, width=0, visible=True)
        else:
            ey = dict(type="data", array=ev, color=c, thickness=1, width=0, visible=True)
        fig.add_trace(go.Scatter(
            x=P["x"], y=yv, mode="markers", xaxis=xref, yaxis=yref,
            marker=dict(symbol="diamond", size=8, color=c, line=dict(width=0)),
            error_y=ey,
            error_x=dict(type="constant", value=P["xerr"], color=c, thickness=1, width=0, visible=True),
            showlegend=False, hoverinfo="skip", cliponaxis=True))

    layout["xaxis" + xs] = dict(
        domain=[px(X0 + FR_L), px(X0 + FR_R)], anchor=yref, range=P["xr"],
        tick0=0, dtick=P["xd"],
        minor=dict(tick0=0, dtick=P["xm"], ticks="inside", ticklen=4, tickwidth=1,
                   tickcolor="black", showgrid=False),
        **axis_common)
    layout["yaxis" + xs] = dict(
        domain=[py(Y0 + FR_B), py(Y0 + FR_T)], anchor=xref, range=P["yr"],
        tick0=0, dtick=P["yd"],
        minor=dict(tick0=0, dtick=P["ym"], ticks="inside", ticklen=4, tickwidth=1,
                   tickcolor="black", showgrid=False),
        **axis_common)

    # title box
    shapes.append(dict(type="rect", xref="paper", yref="paper",
                       x0=px(X0 + 17.3), x1=px(X0 + P["tw"]), y0=py(Y0 + 40.5), y1=py(Y0 + 17.3),
                       line=dict(color="black", width=1), fillcolor="white", layer="above"))
    annots.append(dict(xref="paper", yref="paper", x=px(X0 + 23.5), y=py(Y0 + 29.2),
                       xanchor="left", yanchor="middle", showarrow=False,
                       text="<b>%s</b>" % P["title"],
                       font=dict(family=FONT, size=17, color="black")))
    # statistics box
    shapes.append(dict(type="rect", xref="paper", yref="paper",
                       x0=px(X0 + 464), x1=px(X0 + 579.6), y0=py(Y0 + 136.5), y1=py(Y0 + 17.3),
                       line=dict(color="black", width=1), fillcolor="white", layer="above"))
    shapes.append(dict(type="line", xref="paper", yref="paper",
                       x0=px(X0 + 464), x1=px(X0 + 579.6), y0=py(Y0 + 37.3), y1=py(Y0 + 37.3),
                       line=dict(color="black", width=1), layer="above"))
    annots.append(dict(xref="paper", yref="paper", x=px(X0 + 521.8), y=py(Y0 + 27.6),
                       xanchor="center", yanchor="middle", showarrow=False,
                       text="<b>%s</b>" % P["name"],
                       font=dict(family=FONT, size=P["hs"], color="black")))
    for j, (lab, val) in enumerate(zip(STAT_LABELS, P["stats"])):
        yy = py(Y0 + 47.0 + 19.85 * j)
        annots.append(dict(xref="paper", yref="paper", x=px(X0 + 469.0), y=yy,
                           xanchor="left", yanchor="middle", showarrow=False,
                           text="<b>%s</b>" % lab, font=dict(family=FONT, size=13, color="black")))
        annots.append(dict(xref="paper", yref="paper", x=px(X0 + 574.0), y=yy,
                           xanchor="right", yanchor="middle", showarrow=False,
                           text="<b>%s</b>" % val, font=dict(family=FONT, size=13, color="black")))

# small stray marks at the bottom of the canvas
shapes.append(dict(type="rect", xref="paper", yref="paper",
                   x0=px(94), x1=px(98.5), y0=py(1600.5), y1=py(1596),
                   line=dict(width=0), fillcolor="black", layer="above"))
shapes.append(dict(type="rect", xref="paper", yref="paper",
                   x0=px(8.2), x1=px(9.7), y0=py(1592), y1=py(1590.5),
                   line=dict(width=0), fillcolor="#555555", layer="above"))

fig.update_layout(
    width=W, height=H, autosize=False,
    margin=dict(l=0, r=0, t=0, b=0),
    paper_bgcolor="white", plot_bgcolor="white",
    shapes=shapes, annotations=annots, showlegend=False,
    **layout)

fig.write_html("out.html", config={"displayModeBar": False, "staticPlot": True})
